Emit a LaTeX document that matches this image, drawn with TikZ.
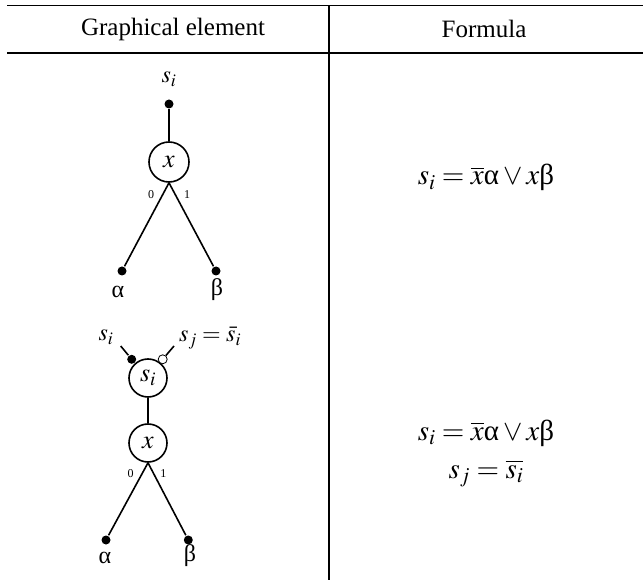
\documentclass[tikz,border=0pt]{standalone}
\usepackage{mathptmx}
\usepackage{amsmath}
\usepackage{fontspec}
\setmainfont{Liberation Serif}
\usetikzlibrary{positioning}
\newcommand{\galpha}{\text{α}}
\newcommand{\gbeta}{\text{β}}

\begin{document}
\begin{tikzpicture}[x=1pt,y=-1pt,line width=1.6pt,
  every node/.style={font=\fontsize{24}{28}\selectfont},
  head/.style={font=\fontsize{25}{30}\selectfont},
  formula/.style={anchor=base,font=\fontsize{29}{34}\selectfont},
  gate/.style={draw,circle,inner sep=0pt,minimum size=40pt,font=\fontsize{26}{30}\selectfont},
  pindot/.style={circle,fill,inner sep=0pt,minimum size=9pt},
  opendot/.style={circle,draw,fill=white,inner sep=0pt,minimum size=9pt,line width=0.8pt},
  branch/.style={font=\fontsize{12}{14}\selectfont,inner sep=0pt}]
  \useasboundingbox (0,0) rectangle (643,580);
  \def\colSep{329}
  \def\rowTop{5.7}
  \def\rowHead{53}
  \draw (7,\rowTop) -- (643,\rowTop);
  \draw (7,\rowHead) -- (643,\rowHead);
  \draw (\colSep,\rowTop) -- (\colSep,580);
  \node[head] (hdgraph) at (173,29) {Graphical element};
  \node[head] (hdform) at (484,29) {Formula};
  % single vertex
  \node[gate] (xa) at (169,162) {$x$};
  \node[pindot] (sa) at (169,104) {};
  \node (sala) at (169,79) {$s_i$};
  \node[pindot] (aa) at (122,271) {};
  \node[pindot] (ba) at (216,271) {};
  \node (alfa) at (118,292) {$\galpha$};
  \node (beta) at (217,290) {$\gbeta$};
  \draw (sa) -- (xa);
  \draw (xa.south) -- (aa);
  \draw (xa.south) -- (ba);
  \node[branch] (za) at (151,195) {0};
  \node[branch] (oa) at (187,195) {1};
  % vertex with two outputs
  \node[gate,minimum size=38pt] (sb) at (148,378) {$s_i$};
  \node[gate,minimum size=38pt] (xb) at (148,443) {$x$};
  \node[pindot] (inb) at (131.7,359.3) {};
  \node[opendot] (outb) at (162.7,359.3) {};
  \coordinate (inend) at (120.7,346);
  \coordinate (outend) at (174,346);
  \draw (inend) -- (inb);
  \draw (outb) -- (outend);
  \node (slab) at (106,337) {$s_i$};
  \node (sjlab) at (210,338) {$s_j=\bar{s}_i$};
  \draw (sb) -- (xb);
  \node[pindot] (ab) at (106,540) {};
  \node[pindot] (bb) at (188.3,540) {};
  \draw (xb.south) -- (ab);
  \draw (xb.south) -- (bb);
  \node[branch] (zb) at (130.7,473.3) {0};
  \node[branch] (ob) at (163.3,473.3) {1};
  \node (alfb) at (105,558) {$\galpha$};
  \node (betb) at (190,556) {$\gbeta$};
  % formulas
  \node[formula] (fa) at (486,185) {$s_i=\overline{x}\galpha\vee x\gbeta$};
  \node[formula] (fb) at (486,440) {$s_i=\overline{x}\galpha\vee x\gbeta$};
  \node[formula] (fc) at (486,478) {$s_j=\overline{s_i}$};
\end{tikzpicture}
\end{document}
